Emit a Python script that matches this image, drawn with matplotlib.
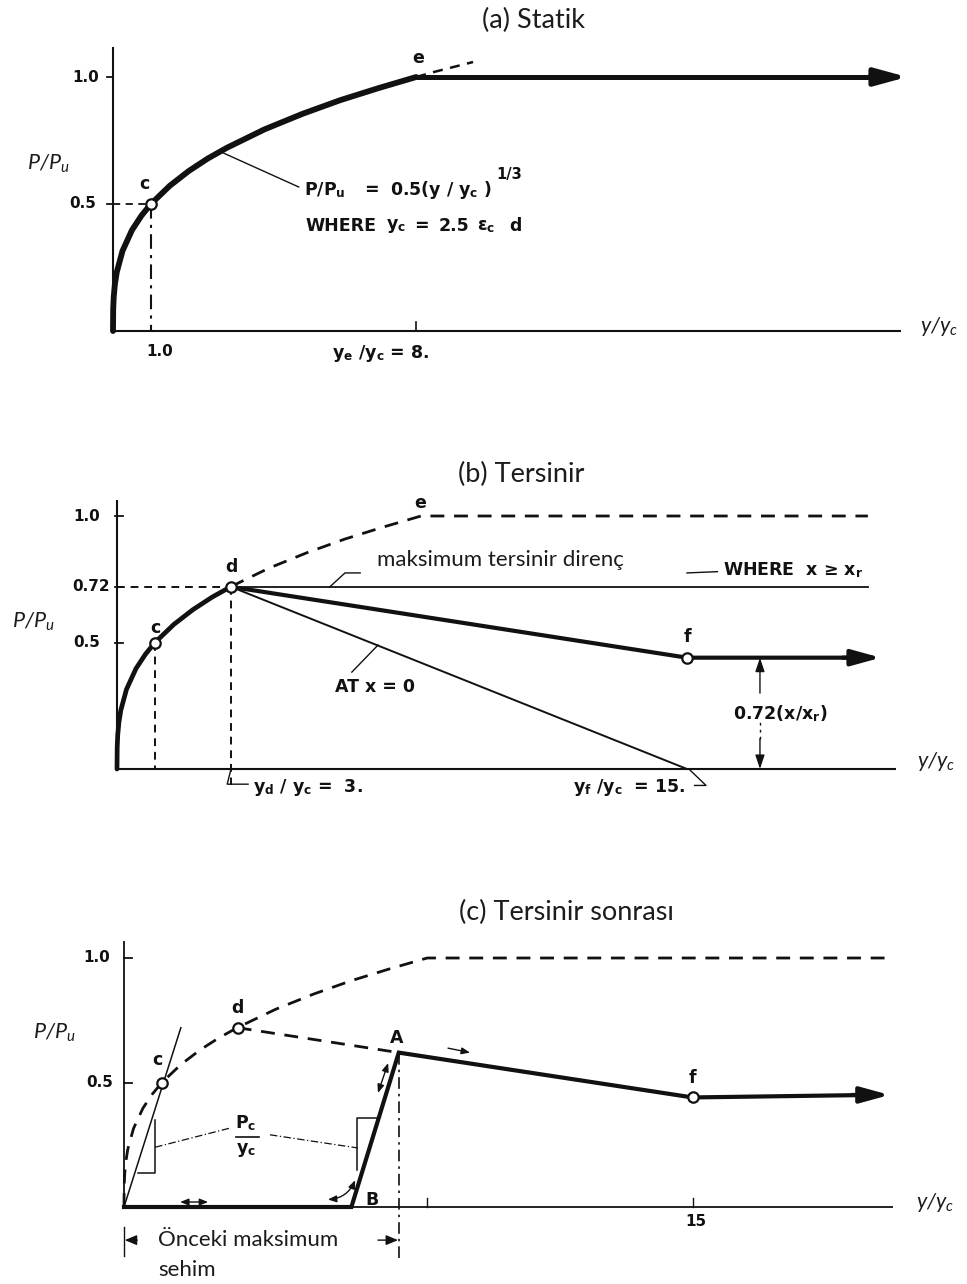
import matplotlib
matplotlib.use("Agg")
import matplotlib.pyplot as plt

plt.rcParams["mathtext.fontset"] = "custom"
plt.rcParams["mathtext.rm"] = "Lato:italic"
plt.rcParams["mathtext.it"] = "Lato:italic"
plt.rcParams["mathtext.bf"] = "DejaVu Sans:bold"

# ---------------- data (y/yc, P/Pu) ----------------
# static resistance curve up to e
static_x = [0, 0.005, 0.02, 0.05, 0.1, 0.25, 0.5, 0.75, 1, 1.5, 2, 2.5, 3, 4, 5, 6, 7, 8]
static_p = [0, 0.085, 0.136, 0.184, 0.232, 0.315, 0.397, 0.454, 0.5, 0.572, 0.630,
            0.679, 0.721, 0.794, 0.855, 0.909, 0.956, 1.0]
# dashed continuation past e
static_ext_x = [8, 8.5, 9, 9.5]
static_ext_p = [1.0, 1.021, 1.040, 1.059]
plateau_a_x = [8, 20.95]
plateau_a_p = [1.0, 1.0]

# reversible (b)
pt_c = (1.0, 0.5)
pt_d = (3.0, 0.72)
pt_e = (8.0, 1.0)
env_end_b = 19.76
rev_line_x = [3.0, 19.76]
rev_line_p = [0.72, 0.72]
soft_x = [3.0, 15.0, 20.1]          # d -> f -> arrow
soft_p = [0.72, 0.44, 0.44]
zero_x = [3.0, 15.0]                # AT x = 0
zero_p = [0.72, 0.0]

# post-reversible (c)
env_end_c = 20.3
reload_x = [0.0, 6.0, 7.25, 15.0, 20.2]   # origin -> B -> A -> f -> arrow
reload_p = [0.0, 0.0, 0.62, 0.44, 0.45]
da_x = [3.0, 7.25]
da_p = [0.72, 0.62]
slope_x = [0.0, 1.5]
slope_p = [0.0, 0.72]

W, H = 967, 1284
fig = plt.figure(figsize=(W / 100, H / 100), dpi=100)

INK = "#111111"
TXT = "#1c1c1c"
TITLE = dict(family="Lato", fontsize=19.5, color=TXT)
CAL = dict(family="Lato", fontsize=16, color=TXT)
ITAL = dict(family="Lato", style="italic", fontsize=15.5, color=TXT)
SCAN = dict(family="DejaVu Sans", weight="bold", fontsize=12.5, color=INK)
TICK = dict(family="DejaVu Sans", weight="bold", fontsize=11, color=INK)
DASH = (0, (5, 3.5))
DASHDOT = (0, (7, 3, 1.5, 3))


def make_panel(top, bot, x0, y0, sx, sy):
    ax = fig.add_axes([0, 1 - bot / H, 1, (bot - top) / H])
    ax.set_xlim(-x0 / sx, (W - x0) / sx)
    ax.set_ylim((y0 - bot) / sy, (y0 - top) / sy)
    ax.axis("off")
    return ax


def axes_lines(ax, ytop, xend, lw=1.5):
    ax.plot([0, 0], [0, ytop], color=INK, lw=lw, solid_capstyle="butt")
    ax.plot([0, xend], [0, 0], color=INK, lw=lw, solid_capstyle="butt")


def arrow_end(ax, x0, y0, x1, y1, lw=3, ms=22):
    ax.annotate("", xy=(x1, y1), xytext=(x0, y0),
                arrowprops=dict(arrowstyle="-|>,head_length=0.8,head_width=0.22",
                                lw=lw, color=INK, shrinkA=0, shrinkB=0,
                                mutation_scale=ms))


def circle(ax, p):
    ax.plot(*p, marker="o", ms=7.5, mfc="white", mec=INK, mew=1.6, zorder=5)


# ================= (a) Statik =================
ax = make_panel(0, 420, 113, 331, 37.9, 254)
fig.text(533 / W, 1 - 20 / H, "(a) Statik", ha="center", va="center", **TITLE)
axes_lines(ax, 1.12, 20.8)
for v in (1.0, 0.5):
    ax.plot([-0.17, 0], [v, v], color=INK, lw=1.3)
ax.text(-0.36, 1.0, "1.0", ha="right", va="center", **TICK)
ax.text(-0.45, 0.5, "0.5", ha="right", va="center", **TICK)
ax.plot([8, 8], [0, 0.035], color=INK, lw=1.2)
ax.text(1.24, -0.08, "1.0", ha="center", va="center", **TICK)
ax.text(7.05, -0.09, r"y$_\mathbf{e}$ /y$_\mathbf{c}$ = 8.", ha="center", va="center", **SCAN)

ax.plot(static_x, static_p, color=INK, lw=4.2, solid_capstyle="round", zorder=3)
ax.plot(static_ext_x, static_ext_p, color=INK, lw=1.8, linestyle=(0, (4, 3)))
ax.plot(plateau_a_x[:1] + [plateau_a_x[1] - 0.5], plateau_a_p, color=INK, lw=3.6)
arrow_end(ax, plateau_a_x[1] - 1.0, 1.0, plateau_a_x[1], 1.0, lw=3.6, ms=24)

ax.plot([0, pt_c[0]], [0.5, 0.5], color=INK, lw=1.3, linestyle=(0, (4, 3)))
ax.plot([pt_c[0], pt_c[0]], [0.5, 0], color=INK, lw=1.5, linestyle=DASHDOT)
circle(ax, pt_c)
ax.text(0.82, 0.58, "c", ha="center", va="center", **SCAN)
ax.text(8.05, 1.075, "e", ha="center", va="center", **SCAN)

# formula note with leader
ax.plot([2.82, 4.9], [0.707, 0.567], color=INK, lw=1.0)
ax.text(5.05, 0.553, r"P/P$_\mathbf{u}$", ha="left", va="center", **SCAN)
ax.text(6.83, 0.555, "=", ha="center", va="center", **SCAN)
ax.text(7.3, 0.555, r"0.5(y / y$_\mathbf{c}$ )", ha="left", va="center", **SCAN)
ax.text(10.12, 0.615, "1/3", ha="left", va="center", **dict(SCAN, fontsize=10.5))
ax.text(5.07, 0.413, "WHERE", ha="left", va="center", **SCAN)
ax.text(7.2, 0.413, r"y$_\mathbf{c}$", ha="left", va="center", **SCAN)
ax.text(8.15, 0.413, "=", ha="center", va="center", **SCAN)
ax.text(8.6, 0.413, "2.5", ha="left", va="center", **SCAN)
ax.text(9.6, 0.413, r"ε$_\mathbf{c}$", ha="left", va="center", **SCAN)
ax.text(10.45, 0.413, "d", ha="left", va="center", **SCAN)

ax.text(-2.27, 0.66, r"$P/P_u$", ha="left", va="center", **ITAL)
ax.text(21.3, 0.016, r"$y/y_c$", ha="left", va="center", **ITAL)

# ================= (b) Tersinir =================
ax = make_panel(430, 850, 117, 769, 38, 253)
fig.text(521 / W, 1 - 474 / H, "(b) Tersinir", ha="center", va="center", **TITLE)
axes_lines(ax, 1.063, 20.5)
for v in (1.0, 0.72, 0.5):
    ax.plot([-0.05, 0.16], [v, v], color=INK, lw=1.3)
ax.text(-0.45, 1.0, "1.0", ha="right", va="center", **TICK)
ax.text(-0.18, 0.72, "0.72", ha="right", va="center", **TICK)
ax.text(-0.45, 0.5, "0.5", ha="right", va="center", **TICK)

ax.plot(static_x[:13], static_p[:13], color=INK, lw=3.4, solid_capstyle="round", zorder=3)
ax.plot(static_x[12:] + [env_end_b], static_p[12:] + [1.0], color=INK, lw=2.0, linestyle=DASH)
ax.plot(rev_line_x, rev_line_p, color=INK, lw=1.3)
ax.plot(soft_x[:2] + [soft_x[2] - 0.5], soft_p, color=INK, lw=3.0)
arrow_end(ax, soft_x[2] - 1.0, soft_p[2], soft_x[2], soft_p[2], lw=3.0, ms=22)
ax.plot(zero_x, zero_p, color=INK, lw=1.4)

ax.plot([pt_c[0]] * 2, [pt_c[1], 0], color=INK, lw=1.4, linestyle=(0, (4, 3)))
ax.plot([pt_d[0]] * 2, [pt_d[1], -0.063], color=INK, lw=1.4, linestyle=(0, (4, 3)))
ax.plot([0, pt_d[0]], [0.72, 0.72], color=INK, lw=1.4, linestyle=(0, (4, 3)))
for p in (pt_c, pt_d, (soft_x[1], soft_p[1])):
    circle(ax, p)
ax.text(1.0, 0.557, "c", ha="center", va="center", **SCAN)
ax.text(3.0, 0.80, "d", ha="center", va="center", **SCAN)
ax.text(7.97, 1.05, "e", ha="center", va="center", **SCAN)
ax.text(15.0, 0.52, "f", ha="center", va="center", **SCAN)

ax.text(6.84, 0.826, "maksimum tersinir direnç", ha="left", va="center", **CAL)
ax.plot([5.6, 6.0, 6.4], [0.72, 0.775, 0.775], color=INK, lw=1.0)
ax.plot([15.0, 15.8], [0.775, 0.78], color=INK, lw=1.0)
ax.text(15.95, 0.787, r"WHERE  x ≥ x$_\mathbf{r}$", ha="left", va="center", **SCAN)
ax.text(6.8, 0.324, "AT x = 0", ha="center", va="center", **SCAN)
ax.plot([6.87, 6.18], [0.49, 0.383], color=INK, lw=1.0)

# dimension 0.72(x/xr)
ax.annotate("", xy=(16.92, 0.44), xytext=(16.92, 0.30),
            arrowprops=dict(arrowstyle="-|>,head_length=0.6,head_width=0.2", lw=1.0,
                            color=INK, shrinkA=0, shrinkB=0, mutation_scale=14))
ax.annotate("", xy=(16.92, 0.0), xytext=(16.92, 0.12),
            arrowprops=dict(arrowstyle="-|>,head_length=0.6,head_width=0.2", lw=1.0,
                            color=INK, shrinkA=0, shrinkB=0, mutation_scale=14))
ax.plot([16.92, 16.92], [0.12, 0.19], color=INK, lw=1.0, linestyle=(0, (2, 3)))
ax.text(17.45, 0.22, r"0.72(x/x$_\mathbf{r}$)", ha="center", va="center", **SCAN)

ax.plot([3.0, 2.9, 3.45], [0.0, -0.06, -0.06], color=INK, lw=1.0)
ax.text(3.58, -0.075, r"y$_\mathbf{d}$ / y$_\mathbf{c}$ =  3.", ha="left", va="center", **SCAN)
ax.text(12.0, -0.075, r"y$_\mathbf{f}$ /y$_\mathbf{c}$  = 15.", ha="left", va="center", **SCAN)
ax.plot([15.2, 15.5, 15.05], [-0.065, -0.065, 0.0], color=INK, lw=1.0)

ax.text(-2.76, 0.58, r"$P/P_u$", ha="left", va="center", **ITAL)
ax.text(21.05, 0.028, r"$y/y_c$", ha="left", va="center", **ITAL)

# ================= (c) Tersinir sonrası =================
ax = make_panel(880, 1284, 124, 1207, 37.9, 249)
fig.text(566 / W, 1 - 912 / H, "(c) Tersinir sonrası", ha="center", va="center", **TITLE)
axes_lines(ax, 1.07, 20.3, lw=1.3)
for v in (1.0, 0.5):
    ax.plot([0, 0.2], [v, v], color=INK, lw=1.3)
ax.text(-0.37, 1.0, "1.0", ha="right", va="center", **TICK)
ax.text(-0.29, 0.5, "0.5", ha="right", va="center", **TICK)
for v in (8, 15):
    ax.plot([v, v], [0, 0.035], color=INK, lw=1.0)
ax.text(15.1, -0.06, "15", ha="center", va="center", **TICK)

ax.plot(static_x + [env_end_c], static_p + [1.0], color=INK, lw=2.0, linestyle=DASH)
ax.plot(da_x, da_p, color=INK, lw=2.0, linestyle=DASH)
ax.plot(reload_x[:-1] + [reload_x[-1] - 0.5], reload_p[:-1] + [reload_p[-1]],
        color=INK, lw=3.0, solid_joinstyle="miter")
arrow_end(ax, reload_x[-1] - 1.0, reload_p[-1], reload_x[-1], reload_p[-1], lw=3.0, ms=22)
ax.plot(slope_x, slope_p, color=INK, lw=1.1)
for p in (pt_c, pt_d, (reload_x[3], reload_p[3])):
    circle(ax, p)
ax.text(0.87, 0.59, "c", ha="center", va="center", **SCAN)
ax.text(3.0, 0.80, "d", ha="center", va="center", **SCAN)
ax.text(7.2, 0.68, "A", ha="center", va="center", **SCAN)
ax.text(6.55, 0.03, "B", ha="center", va="center", **SCAN)
ax.text(15.0, 0.52, "f", ha="center", va="center", **SCAN)

# slope markers p_c / y_c
ax.plot([0.37, 0.82, 0.82], [0.137, 0.137, 0.35], color=INK, lw=1.1)
ax.plot([6.68, 6.15, 6.15], [0.357, 0.357, 0.149], color=INK, lw=1.1)
ax.plot([0.82, 2.8], [0.24, 0.317], color=INK, lw=0.9, linestyle=(0, (6, 2, 1, 2)))
ax.plot([3.85, 6.17], [0.29, 0.237], color=INK, lw=0.9, linestyle=(0, (6, 2, 1, 2)))
ax.text(3.22, 0.337, r"P$_\mathbf{c}$", ha="center", va="center", **SCAN)
ax.plot([2.95, 3.55], [0.282, 0.282], color=INK, lw=1.2)
ax.text(3.22, 0.229, r"y$_\mathbf{c}$", ha="center", va="center", **SCAN)

small = dict(arrowstyle="<|-|>,head_length=0.5,head_width=0.2", lw=1.0, color=INK,
             shrinkA=0, shrinkB=0, mutation_scale=10)
ax.annotate("", xy=(5.38, 0.03), xytext=(6.1, 0.108),
            arrowprops=dict(small, connectionstyle="arc3,rad=-0.3"))
ax.annotate("", xy=(1.48, 0.02), xytext=(2.22, 0.02), arrowprops=small)
ax.annotate("", xy=(6.7, 0.458), xytext=(6.97, 0.578), arrowprops=small)
ax.annotate("", xy=(9.13, 0.62), xytext=(8.55, 0.638),
            arrowprops=dict(arrowstyle="-|>,head_length=0.5,head_width=0.2", lw=1.0,
                            color=INK, shrinkA=0, shrinkB=0, mutation_scale=10))

ax.plot([7.25, 7.25], [0.62, -0.22], color=INK, lw=1.2, linestyle=DASHDOT)
ax.plot([0, 0], [-0.08, -0.197], color=INK, lw=1.0)
ax.annotate("", xy=(0.02, -0.133), xytext=(0.35, -0.133),
            arrowprops=dict(arrowstyle="-|>,head_length=0.6,head_width=0.25", lw=1.0,
                            color=INK, shrinkA=0, shrinkB=0, mutation_scale=12))
ax.annotate("", xy=(7.23, -0.133), xytext=(6.7, -0.133),
            arrowprops=dict(arrowstyle="-|>,head_length=0.6,head_width=0.25", lw=1.0,
                            color=INK, shrinkA=0, shrinkB=0, mutation_scale=12))
ax.text(0.9, -0.133, "Önceki maksimum", ha="left", va="center", **CAL)
ax.text(0.9, -0.253, "sehim", ha="left", va="center", **CAL)

ax.text(-2.4, 0.70, r"$P/P_u$", ha="left", va="center", **ITAL)
ax.text(20.9, 0.02, r"$y/y_c$", ha="left", va="center", **ITAL)

fig.savefig("out.png", dpi=100, facecolor="white")
